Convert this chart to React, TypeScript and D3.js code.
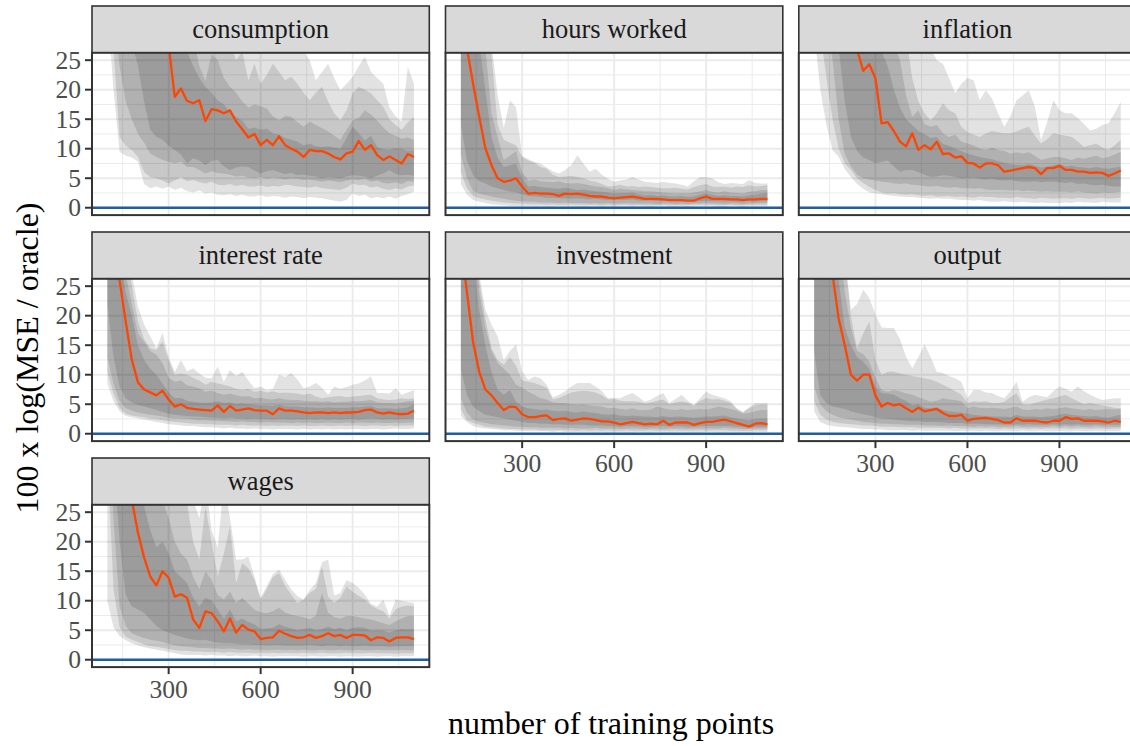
import React from 'react';
import * as d3 from 'd3';

// ---------- categories / ticks ----------
const facetNames = ['consumption', 'hours worked', 'inflation', 'interest rate', 'investment', 'output', 'wages'];
const trainingPoints = [100, 120, 140, 160, 180, 200, 220, 240, 260, 280, 300,
  320, 340, 360, 380, 400, 420, 440, 460, 480, 500,
  520, 540, 560, 580, 600, 620, 640, 660, 680, 700,
  720, 740, 760, 780, 800, 820, 840, 860, 880, 900,
  920, 940, 960, 980, 1000, 1020, 1040, 1060, 1080, 1100];
const xMajorTicks = [300, 600, 900];
const xMinorTicks = [150, 450, 750, 1050];
const yMajorTicks = [0, 5, 10, 15, 20, 25];
const yMinorTicks = [2.5, 7.5, 12.5, 17.5, 22.5];

// ---------- consumption ----------
const consumptionMed = [75, 62, 52, 46, 42, 38, 35, 32, 30, 29, 27.5,
  18.8, 20.2, 18.1, 17.7, 18.2, 14.7, 16.7, 16.5, 16.0, 16.5,
  14.6, 13.3, 11.9, 12.5, 10.6, 11.5, 10.6, 12.1, 10.6, 10.0,
  9.5, 8.6, 9.8, 9.6, 9.6, 9.2, 8.6, 8.2, 9.2, 9.5,
  11.3, 9.8, 10.6, 8.9, 8.1, 8.7, 8.1, 7.5, 9.1, 8.6];
const consumptionLo1 = [34, 20, 9.5, 8.8, 8.5, 7.8, 4.0, 3.3, 3.6, 3.2, 3.6,
  3.0, 3.4, 2.8, 2.6, 2.9, 2.4, 2.6, 2.2, 2.1, 2.3,
  2.0, 2.2, 1.9, 1.9, 2.1, 1.8, 2.0, 1.9, 1.7, 1.9,
  1.8, 1.6, 1.8, 1.7, 1.6, 1.4, 1.2, 1.0, 1.3, 2.4,
  2.0, 2.2, 1.6, 1.8, 1.6, 1.9, 1.5, 2.0, 2.3, 2.7];
const consumptionLo2 = [45, 27, 12, 10.5, 9.8, 8.6, 6.0, 5.2, 5.0, 4.6, 4.1,
  4.6, 5.2, 4.5, 4.7, 4.3, 4.1, 4.4, 3.9, 3.8, 4.0,
  3.7, 3.9, 3.6, 3.6, 3.8, 3.5, 3.7, 3.6, 3.9, 3.8,
  3.6, 3.5, 3.4, 3.6, 3.3, 3.2, 3.1, 3.0, 3.4, 4.1,
  3.8, 3.9, 3.4, 3.6, 3.2, 3.0, 3.3, 3.1, 3.6, 3.8];
const consumptionLo3 = [55, 34, 24, 18, 15, 12.5, 11, 9.2, 8.6, 8.1, 7.8,
  7.5, 7.8, 6.9, 6.9, 6.4, 5.8, 6.2, 5.9, 5.8, 5.6,
  5.3, 5.4, 5.1, 5.0, 5.2, 4.9, 5.1, 5.0, 4.8, 5.0,
  4.9, 4.7, 4.8, 4.6, 4.4, 4.6, 4.5, 4.3, 4.6, 4.8,
  4.7, 4.9, 4.4, 4.6, 4.2, 4.1, 4.3, 4.0, 4.5, 4.4];
const consumptionLo4 = [65, 52, 42, 34, 28, 24, 18, 13.2, 12.0, 11.5, 10.5,
  9.8, 9.0, 7.5, 8.4, 8.0, 7.2, 7.9, 8.1, 7.0, 6.4,
  6.8, 7.0, 6.9, 6.3, 5.8, 6.2, 6.4, 6.0, 5.7, 5.9,
  5.5, 5.6, 5.4, 5.3, 5.0, 5.2, 5.1, 5.0, 5.3, 5.5,
  5.4, 5.3, 5.0, 5.4, 5.8, 6.4, 5.7, 5.5, 5.6, 5.4];
const consumptionHi4 = [150, 130, 110, 95, 85, 75, 65, 55, 48, 42, 36,
  30, 28, 26.5, 24, 22, 20.5, 19.5, 18.2, 17.5, 16.2,
  15.4, 14.8, 13.4, 13.6, 13.2, 13.4, 12.6, 12.4, 11.8, 11.5,
  11.2, 10.6, 10.9, 10.4, 10.3, 10.4, 10.2, 10.0, 11.8, 13.7,
  12.6, 11.4, 12.2, 10.3, 9.9, 9.8, 10.1, 10.0, 9.6, 9.8];
const consumptionHi3 = [200, 170, 150, 130, 110, 95, 80, 70, 60, 52, 45,
  40, 36, 32, 29, 24, 21.5, 26, 25, 22, 20.5,
  19.5, 18, 17, 17.5, 17.2, 16.8, 15.5, 14.8, 15.6, 15.4,
  14.5, 13.7, 14.6, 14.0, 13.5, 12.9, 12.2, 11.5, 13.2, 14.8,
  15.2, 16.5, 15.8, 14.8, 13.6, 12.6, 12.2, 11.7, 11.9, 11.5];
const consumptionHi2 = [250, 220, 190, 160, 140, 120, 100, 85, 72, 62, 54,
  48, 42, 38, 34, 30, 28, 31, 29, 27, 28,
  25, 26.5, 21.6, 24.4, 21, 22.5, 24.4, 23, 21.6, 22.2,
  21, 19.5, 18.2, 19.5, 20.5, 18, 16, 14.8, 16.5, 19.4,
  20.5, 20, 19.4, 18.2, 17.1, 15.0, 14.0, 13.2, 14.5, 15.4];
const consumptionHi1 = [300, 260, 230, 200, 180, 160, 140, 120, 105, 95, 85,
  75, 68, 60, 54, 50, 45, 42, 40, 37, 35,
  33, 32, 31, 30, 29, 28, 29, 28, 27, 27.5,
  27, 26.5, 25, 21.6, 23, 24.4, 22, 19.9, 21, 22.2,
  24, 25.6, 23, 22, 21, 17, 15.5, 14.6, 23.9, 21];

// ---------- hours worked ----------
const hoursMed = [34, 27, 21, 15.4, 10.1, 7.2, 5.0, 4.4, 4.6, 5.0, 3.6,
  2.4, 2.5, 2.4, 2.4, 2.3, 2.0, 2.4, 2.3, 2.4, 2.2,
  2.0, 1.9, 1.9, 1.7, 1.6, 1.7, 1.8, 1.9, 1.7, 1.5,
  1.5, 1.5, 1.4, 1.3, 1.3, 1.3, 1.2, 1.2, 1.6, 1.9,
  1.5, 1.5, 1.5, 1.4, 1.4, 1.3, 1.4, 1.4, 1.5, 1.5];
const hoursLo1 = [4, 2.2, 1.3, 1.0, 0.8, 0.6, 0.5, 0.4, 0.3, 0.3, 0.3,
  0.3, 0.2, 0.3, 0.2, 0.2, 0.3, 0.2, 0.2, 0.2, 0.1,
  0.2, 0.2, 0.1, 0.2, 0.1, 0.2, 0.2, 0.1, 0.2, 0.1,
  0.1, 0.2, 0.2, 0.1, 0.1, 0.2, 0.1, 0.2, 0.2, 0.2,
  0.2, 0.1, 0.1, 0.2, 0.2, 0.1, 0.2, 0.2, 0.2, 0.2];
const hoursLo2 = [6, 3.3, 2.0, 1.6, 1.4, 1.2, 1.0, 0.9, 0.8, 0.7, 0.7,
  0.6, 0.6, 0.6, 0.5, 0.6, 0.5, 0.5, 0.6, 0.5, 0.5,
  0.5, 0.5, 0.4, 0.5, 0.4, 0.5, 0.5, 0.4, 0.5, 0.4,
  0.4, 0.4, 0.5, 0.4, 0.4, 0.4, 0.4, 0.5, 0.5, 0.5,
  0.5, 0.4, 0.4, 0.5, 0.4, 0.4, 0.5, 0.5, 0.5, 0.5];
const hoursLo3 = [9, 5, 2.8, 2.4, 2.1, 1.9, 1.7, 1.5, 1.3, 1.2, 1.1,
  1.0, 1.0, 0.9, 0.9, 0.9, 0.8, 0.9, 0.8, 0.8, 0.8,
  0.7, 0.8, 0.7, 0.8, 0.7, 0.7, 0.8, 0.7, 0.7, 0.7,
  0.7, 0.6, 0.7, 0.7, 0.6, 0.7, 0.6, 0.7, 0.7, 0.8,
  0.7, 0.7, 0.6, 0.7, 0.7, 0.6, 0.7, 0.7, 0.8, 0.8];
const hoursLo4 = [14, 8, 5.5, 4.5, 4.1, 3.6, 3.3, 3.0, 2.7, 2.6, 2.3,
  2.0, 1.9, 1.8, 1.7, 1.7, 1.6, 1.6, 1.5, 1.6, 1.5,
  1.4, 1.5, 1.4, 1.3, 1.4, 1.3, 1.3, 1.4, 1.2, 1.2,
  1.2, 1.1, 1.2, 1.1, 1.1, 1.0, 1.1, 1.0, 1.1, 1.2,
  1.1, 1.1, 1.0, 1.1, 1.0, 1.0, 1.1, 1.0, 1.1, 1.1];
const hoursHi4 = [70, 50, 38, 28, 20, 12, 8.5, 6.9, 7.2, 7.5, 5.0,
  3.6, 3.7, 3.5, 3.4, 3.3, 3.2, 3.4, 3.2, 3.0, 3.1,
  2.9, 2.8, 2.7, 2.6, 2.4, 2.5, 2.5, 2.6, 2.3, 2.1,
  2.2, 2.0, 2.1, 1.9, 1.9, 2.0, 1.8, 1.9, 2.2, 2.4,
  2.2, 2.0, 2.1, 2.0, 2.0, 1.9, 2.1, 2.2, 2.4, 2.5];
const hoursHi3 = [90, 65, 48, 36, 27, 16, 12, 8.1, 8.8, 9.6, 6.0,
  4.6, 4.8, 4.5, 4.4, 4.3, 4.5, 4.2, 4.1, 4.2, 4.0,
  3.8, 3.6, 3.5, 3.3, 3.0, 3.2, 3.1, 3.0, 2.9, 2.8,
  2.8, 2.7, 2.6, 2.5, 2.4, 2.5, 2.4, 2.6, 2.8, 3.0,
  2.7, 2.6, 2.8, 2.6, 2.5, 2.4, 2.7, 2.8, 3.0, 3.0];
const hoursHi2 = [110, 80, 60, 45, 34, 26, 14, 11.5, 11.0, 10.6, 8.6,
  8.0, 7.6, 6.9, 6.6, 5.6, 5.2, 5.3, 5.4, 5.2, 5.0,
  4.6, 4.4, 4.0, 3.6, 3.7, 3.9, 3.6, 3.7, 3.5, 3.6,
  3.5, 3.4, 3.3, 3.3, 3.4, 3.2, 3.1, 3.5, 3.8, 4.0,
  3.6, 3.5, 3.6, 3.4, 3.6, 3.5, 3.8, 3.6, 3.7, 3.8];
const hoursHi1 = [140, 100, 75, 55, 42, 28, 19, 13.5, 18.2, 17.0, 8.8,
  8.2, 7.8, 7.5, 6.8, 6.2, 5.8, 6.4, 7.2, 8.9, 7.5,
  6.1, 6.6, 5.6, 4.9, 4.4, 4.6, 4.8, 5.2, 4.8, 4.4,
  4.3, 4.2, 4.4, 4.2, 4.1, 3.9, 3.6, 4.5, 5.2, 5.2,
  5.0, 4.3, 4.0, 4.2, 4.1, 4.0, 4.7, 4.2, 4.1, 4.1];

// ---------- inflation ----------
const inflationMed = [70, 58, 48, 42, 37, 33, 30, 26.8, 23.2, 24.3, 21.9,
  14.3, 14.5, 13.0, 11.2, 10.4, 12.6, 9.8, 10.6, 9.9, 11.2,
  9.1, 9.2, 8.5, 8.7, 7.6, 7.5, 6.8, 7.5, 7.5, 7.2,
  6.1, 6.3, 6.5, 6.7, 6.9, 6.7, 5.7, 6.7, 6.7, 7.1,
  6.4, 6.4, 6.1, 6.1, 5.9, 6.0, 5.9, 5.4, 5.8, 6.3];
const inflationLo1 = [30, 20, 14, 9.8, 8.6, 6.5, 5.2, 4.0, 3.2, 2.6, 2.4,
  2.3, 2.1, 2.0, 1.9, 1.8, 1.8, 1.7, 1.6, 1.5, 1.6,
  1.5, 1.5, 1.4, 1.3, 1.3, 1.2, 1.3, 1.1, 1.0, 1.0,
  1.1, 1.0, 0.9, 1.0, 0.9, 0.8, 0.9, 0.8, 0.8, 0.8,
  0.9, 0.8, 1.0, 0.9, 0.9, 0.8, 1.0, 0.9, 0.9, 0.9];
const inflationLo2 = [40, 30, 22, 15, 10, 7.5, 6.4, 5.0, 4.2, 3.5, 3.0,
  2.6, 2.4, 2.5, 2.3, 2.2, 2.3, 2.1, 2.0, 2.1, 1.9,
  1.9, 2.0, 1.8, 1.9, 1.8, 1.7, 1.9, 1.8, 1.8, 1.7,
  1.7, 1.6, 1.8, 1.7, 1.6, 1.5, 1.7, 1.6, 1.5, 1.6,
  1.6, 1.5, 1.7, 1.6, 1.5, 1.6, 1.7, 1.5, 1.6, 1.7];
const inflationLo3 = [50, 40, 32, 25, 15, 9, 7.0, 5.6, 5.0, 4.8, 4.6,
  4.4, 4.3, 4.1, 4.0, 4.1, 3.9, 3.8, 3.7, 3.6, 3.7,
  3.5, 3.4, 3.5, 3.3, 3.3, 3.2, 3.3, 3.1, 3.0, 3.0,
  3.0, 2.9, 3.0, 2.8, 2.9, 2.8, 2.7, 2.8, 2.7, 2.7,
  2.7, 2.6, 2.8, 2.6, 2.5, 2.4, 2.6, 2.5, 2.6, 2.7];
const inflationLo4 = [60, 48, 40, 33, 27, 18, 12, 9.6, 8.5, 8.1, 7.5,
  7.8, 8.0, 7.0, 6.1, 6.4, 6.4, 6.0, 5.6, 5.2, 5.3,
  5.5, 5.4, 5.2, 5.0, 5.0, 5.1, 4.9, 4.8, 4.9, 4.7,
  4.6, 4.7, 4.5, 4.4, 4.4, 4.5, 4.3, 4.4, 4.4, 4.3,
  4.2, 4.3, 4.0, 4.1, 3.9, 3.8, 3.9, 3.7, 3.6, 3.6];
const inflationHi4 = [200, 160, 120, 90, 70, 55, 45, 38, 33, 30, 28,
  26.5, 24, 20, 17, 15, 14, 13, 12.5, 11.8, 12.0,
  10.8, 10.5, 10.0, 9.6, 9.2, 8.9, 8.6, 8.4, 8.2, 7.9,
  7.6, 7.4, 7.3, 7.2, 7.4, 7.1, 6.8, 7.0, 7.2, 7.4,
  7.0, 7.1, 6.9, 6.8, 6.7, 6.9, 6.7, 6.6, 6.8, 7.0];
const inflationHi3 = [300, 250, 200, 160, 130, 100, 80, 65, 52, 45, 38,
  34, 30, 28, 25, 19, 15.4, 16.5, 14.2, 13.7, 14.0,
  12.6, 12.0, 12.4, 11.2, 10.9, 10.6, 10.0, 9.8, 10.2, 9.8,
  9.6, 9.2, 9.4, 9.2, 9.4, 8.8, 8.1, 8.4, 8.6, 8.6,
  8.4, 8.1, 8.5, 8.3, 8.6, 8.8, 8.4, 8.6, 9.0, 9.5];
const inflationHi2 = [400, 330, 270, 220, 180, 150, 120, 100, 85, 72, 62,
  52, 44, 38, 33, 29, 22, 18, 16, 14.8, 16.0,
  17.7, 16.5, 16.0, 13.7, 12.8, 12.4, 12.0, 12.6, 13.0, 12.8,
  12.6, 12.6, 12.9, 13.4, 13.7, 12.2, 10.9, 11.6, 12.6, 12.4,
  12.2, 12.0, 11.2, 10.3, 10.6, 10.9, 10.2, 9.8, 10.6, 11.5];
const inflationHi1 = [500, 420, 350, 290, 240, 200, 170, 140, 120, 100, 85,
  72, 60, 50, 42, 36, 31, 27.5, 26.5, 27, 25,
  24.4, 22, 19.4, 21, 22, 21.6, 18.2, 19.9, 18.5, 16,
  13.7, 15.5, 18.2, 19, 19.9, 17.1, 11.5, 14.5, 18.2, 16.5,
  16.0, 16.0, 15.2, 14.2, 13.1, 13.4, 14.0, 14.3, 16.0, 17.9];

// ---------- interest rate ----------
const interestMed = [45, 34, 26, 19, 12.5, 8.7, 7.5, 7.0, 6.5, 7.3, 5.8,
  4.6, 5.0, 4.4, 4.2, 4.1, 4.0, 3.9, 4.8, 3.7, 4.7,
  3.9, 4.1, 4.3, 4.0, 3.9, 3.9, 3.3, 4.3, 3.9, 3.9,
  3.8, 3.6, 3.5, 3.6, 3.6, 3.5, 3.6, 3.5, 3.6, 3.6,
  3.7, 4.0, 4.1, 3.6, 3.4, 3.6, 3.4, 3.3, 3.4, 3.9];
const interestLo1 = [8.5, 5.5, 3.8, 3.0, 2.8, 2.6, 2.4, 2.2, 2.0, 1.8, 1.6,
  1.5, 1.4, 1.3, 1.3, 1.2, 1.1, 1.1, 1.0, 0.9, 1.0,
  0.9, 0.9, 0.8, 0.9, 0.8, 0.8, 0.7, 0.8, 0.8, 0.8,
  0.7, 0.8, 0.7, 0.8, 0.7, 0.8, 0.7, 0.8, 0.7, 0.8,
  0.8, 0.7, 0.8, 0.8, 0.7, 0.8, 0.9, 0.8, 0.8, 0.9];
const interestLo2 = [10.5, 6.8, 4.4, 3.4, 3.1, 2.9, 2.8, 2.6, 2.5, 2.3, 2.1,
  2.0, 1.9, 1.8, 1.7, 1.7, 1.6, 1.6, 1.5, 1.5, 1.5,
  1.4, 1.5, 1.4, 1.4, 1.4, 1.3, 1.4, 1.3, 1.4, 1.4,
  1.3, 1.4, 1.3, 1.3, 1.4, 1.3, 1.3, 1.4, 1.3, 1.4,
  1.4, 1.3, 1.4, 1.4, 1.3, 1.4, 1.3, 1.4, 1.4, 1.4];
const interestLo3 = [13, 8.5, 5.6, 4.3, 3.9, 3.6, 3.4, 3.2, 3.1, 2.9, 2.7,
  2.6, 2.6, 2.5, 2.4, 2.3, 2.3, 2.2, 2.2, 2.1, 2.1,
  2.0, 2.1, 2.0, 2.0, 1.9, 2.0, 1.9, 1.9, 1.9, 1.8,
  1.9, 1.8, 1.9, 1.8, 1.8, 1.9, 1.8, 1.8, 1.9, 1.8,
  1.9, 1.9, 1.8, 1.9, 1.8, 1.8, 1.9, 1.8, 1.9, 1.9];
const interestLo4 = [22, 13, 8.0, 6.0, 5.3, 4.9, 4.6, 4.3, 4.0, 3.7, 3.4,
  3.2, 3.1, 3.0, 2.9, 2.9, 2.8, 2.7, 2.7, 2.6, 2.7,
  2.6, 2.6, 2.5, 2.6, 2.5, 2.5, 2.4, 2.5, 2.5, 2.4,
  2.5, 2.4, 2.5, 2.4, 2.5, 2.4, 2.5, 2.4, 2.5, 2.5,
  2.4, 2.5, 2.6, 2.5, 2.4, 2.5, 2.4, 2.5, 2.5, 2.6];
const interestHi4 = [70, 45, 30, 24, 20, 15, 12.5, 11, 10, 8.5, 7.0,
  6.0, 6.1, 5.6, 5.4, 5.3, 5.2, 5.3, 5.5, 5.2, 5.3,
  5.0, 5.1, 5.0, 4.9, 4.8, 4.8, 4.7, 4.9, 4.7, 4.6,
  4.6, 4.5, 4.5, 4.4, 4.4, 4.5, 4.4, 4.4, 4.4, 4.5,
  4.5, 4.6, 4.7, 4.3, 4.3, 4.3, 4.2, 4.3, 4.5, 5.0];
const interestHi3 = [85, 55, 36, 27, 22, 17, 15.6, 14.0, 13.4, 12, 9.5,
  8.8, 9.0, 8.2, 8.0, 7.7, 7.1, 7.3, 6.9, 6.6, 6.8,
  6.5, 6.3, 6.4, 6.0, 6.1, 5.9, 5.8, 6.0, 5.8, 5.7,
  5.7, 5.6, 5.5, 5.5, 5.4, 5.5, 5.3, 5.4, 5.4, 5.5,
  5.5, 5.6, 5.7, 5.3, 5.2, 5.2, 5.1, 5.3, 5.5, 5.6];
const interestHi2 = [100, 65, 42, 31, 25, 19, 16, 14.5, 14.2, 15.6, 12.5,
  10.0, 10.2, 10.0, 9.5, 9.0, 8.3, 8.8, 8.5, 8.3, 8.0,
  7.6, 7.4, 7.6, 7.1, 7.3, 7.0, 7.2, 6.9, 7.0, 6.9,
  6.8, 6.6, 6.8, 6.3, 6.0, 6.2, 6.3, 6.4, 6.2, 6.3,
  6.4, 6.5, 6.6, 6.0, 5.8, 5.7, 5.8, 6.0, 5.9, 6.0];
const interestHi1 = [120, 80, 52, 36, 27, 21.5, 18.5, 16.5, 14.5, 17.1, 13,
  10.5, 12.5, 10.6, 11.1, 10.2, 9.5, 9.4, 11.4, 8.8, 10.8,
  9.8, 10.5, 9.0, 7.7, 8.0, 7.4, 7.6, 10.0, 9.6, 10.3,
  9.2, 7.7, 8.0, 8.6, 7.8, 6.6, 8.0, 7.6, 7.9, 8.3,
  8.5, 9.0, 9.7, 6.9, 6.9, 6.8, 7.7, 6.6, 7.0, 7.4];

// ---------- investment ----------
const investmentMed = [32, 24, 15.5, 10.5, 7.5, 6.5, 5.2, 4.0, 4.6, 4.5, 3.3,
  2.8, 2.8, 3.0, 3.1, 2.3, 2.5, 2.6, 2.2, 2.4, 2.6,
  2.5, 2.3, 2.1, 2.1, 1.9, 1.6, 1.8, 2.0, 1.8, 1.6,
  1.7, 1.6, 2.2, 1.5, 1.9, 1.9, 1.9, 1.5, 1.8, 2.0,
  2.0, 2.2, 2.4, 2.1, 1.8, 1.5, 1.2, 1.7, 1.8, 1.6];
const investmentLo1 = [3.0, 2.0, 1.3, 1.0, 0.9, 0.8, 0.7, 0.6, 0.6, 0.5, 0.5,
  0.4, 0.4, 0.4, 0.4, 0.3, 0.4, 0.3, 0.3, 0.3, 0.3,
  0.3, 0.2, 0.3, 0.2, 0.2, 0.3, 0.2, 0.2, 0.3, 0.2,
  0.2, 0.3, 0.2, 0.2, 0.2, 0.3, 0.2, 0.2, 0.2, 0.3,
  0.3, 0.2, 0.2, 0.3, 0.2, 0.2, 0.2, 0.3, 0.3, 0.3];
const investmentLo2 = [4.2, 2.3, 1.8, 1.5, 1.2, 1.1, 1.0, 0.9, 0.8, 0.8, 0.7,
  0.7, 0.7, 0.6, 0.6, 0.6, 0.6, 0.6, 0.6, 0.5, 0.6,
  0.5, 0.6, 0.5, 0.6, 0.5, 0.5, 0.6, 0.5, 0.5, 0.5,
  0.6, 0.5, 0.5, 0.5, 0.6, 0.5, 0.5, 0.5, 0.6, 0.5,
  0.6, 0.6, 0.6, 0.5, 0.5, 0.5, 0.5, 0.6, 0.6, 0.6];
const investmentLo3 = [6.0, 3.5, 2.4, 2.0, 1.8, 1.6, 1.5, 1.4, 1.3, 1.2, 1.2,
  1.1, 1.1, 1.0, 1.0, 1.0, 1.0, 0.9, 1.0, 0.9, 0.9,
  0.9, 1.0, 0.9, 0.9, 0.9, 0.8, 0.9, 0.9, 0.9, 0.8,
  0.9, 0.9, 0.8, 0.9, 0.9, 0.9, 0.8, 0.9, 0.9, 0.9,
  0.9, 0.9, 1.0, 0.9, 0.9, 0.8, 0.8, 0.9, 0.9, 0.9];
const investmentLo4 = [11, 6.5, 4.6, 3.8, 3.2, 3.0, 2.8, 2.6, 2.4, 2.2, 2.0,
  1.8, 1.8, 1.7, 1.7, 1.6, 1.6, 1.5, 1.5, 1.5, 1.5,
  1.4, 1.4, 1.4, 1.3, 1.3, 1.2, 1.3, 1.3, 1.3, 1.2,
  1.2, 1.3, 1.3, 1.2, 1.3, 1.3, 1.2, 1.2, 1.3, 1.3,
  1.3, 1.3, 1.3, 1.3, 1.2, 1.2, 1.0, 1.2, 1.2, 1.2];
const investmentHi4 = [60, 45, 30, 21, 15, 10.5, 7.5, 6.6, 7.4, 5.4, 4.6,
  4.3, 4.2, 4.0, 4.1, 3.9, 3.8, 3.9, 3.7, 3.6, 3.8,
  3.6, 3.5, 3.3, 3.2, 3.3, 3.1, 3.0, 3.1, 3.0, 2.9,
  2.9, 2.8, 3.0, 2.8, 2.9, 2.9, 2.8, 2.7, 2.8, 2.9,
  2.9, 3.0, 3.1, 2.8, 2.6, 2.4, 2.3, 2.5, 2.6, 2.6];
const investmentHi3 = [90, 60, 38, 24, 18, 14.0, 12.0, 11.0, 10.0, 8.3, 7.8,
  7.1, 6.6, 6.0, 5.8, 5.3, 5.2, 5.2, 5.0, 4.9, 5.0,
  4.8, 4.7, 4.6, 4.3, 4.4, 4.2, 4.1, 4.3, 4.0, 4.0,
  4.1, 4.6, 4.3, 4.1, 4.0, 4.2, 4.0, 4.1, 4.2, 4.1,
  4.3, 4.6, 4.4, 4.2, 3.9, 3.4, 3.5, 3.8, 4.0, 4.0];
const investmentHi2 = [120, 80, 50, 26, 19.5, 14.5, 12.5, 11.7, 13.0, 11.5, 9.0,
  8.8, 8.6, 8.2, 7.8, 5.8, 6.1, 6.5, 7.0, 7.2, 7.3,
  7.2, 7.0, 6.5, 5.8, 5.9, 5.6, 5.5, 5.5, 5.4, 5.1,
  5.3, 5.6, 5.8, 5.0, 5.3, 5.5, 5.3, 4.7, 5.6, 6.0,
  5.8, 5.9, 5.6, 5.2, 4.2, 3.6, 4.3, 4.8, 4.9, 4.9];
const investmentHi1 = [150, 110, 70, 27, 21, 18.5, 16.5, 12.5, 14, 15.1, 10.5,
  9.1, 9.7, 9.4, 8.3, 6.2, 6.6, 7.2, 8.0, 8.6, 8.6,
  8.6, 8.0, 7.2, 6.0, 6.1, 6.0, 6.5, 6.9, 6.2, 5.4,
  5.8, 6.4, 6.9, 5.2, 5.9, 6.6, 5.6, 4.9, 6.0, 7.1,
  6.6, 6.3, 6.0, 5.5, 4.3, 3.7, 4.5, 5.2, 5.2, 5.2];

// ---------- output ----------
const outputMed = [55, 42, 33, 27, 19.5, 15, 10, 9.0, 10.0, 10.0, 6.5,
  4.6, 5.2, 4.8, 5.0, 4.3, 3.7, 4.4, 3.8, 4.0, 4.2,
  3.5, 3.0, 3.0, 3.2, 2.2, 2.5, 2.6, 2.7, 2.5, 2.3,
  1.9, 1.9, 2.6, 2.2, 2.2, 2.2, 2.0, 1.9, 2.2, 2.2,
  2.8, 2.5, 2.6, 2.2, 2.2, 2.2, 2.1, 1.9, 2.2, 2.0];
const outputLo1 = [3.8, 2.0, 1.5, 1.3, 1.2, 1.1, 1.0, 0.9, 0.8, 0.8, 0.7,
  0.7, 0.6, 0.6, 0.6, 0.6, 0.5, 0.6, 0.5, 0.5, 0.5,
  0.5, 0.5, 0.4, 0.5, 0.4, 0.5, 0.4, 0.5, 0.4, 0.4,
  0.5, 0.4, 0.4, 0.5, 0.4, 0.4, 0.5, 0.4, 0.4, 0.5,
  0.4, 0.4, 0.5, 0.4, 0.4, 0.5, 0.4, 0.4, 0.4, 0.5];
const outputLo2 = [5.5, 3.2, 2.4, 2.0, 1.8, 1.7, 1.6, 1.5, 1.4, 1.4, 1.3,
  1.2, 1.2, 1.2, 1.1, 1.1, 1.1, 1.0, 1.0, 1.0, 1.0,
  1.0, 0.9, 1.0, 0.9, 0.9, 0.9, 0.9, 0.9, 0.9, 0.8,
  0.9, 0.8, 0.9, 0.9, 0.8, 0.9, 0.8, 0.9, 0.9, 0.9,
  0.9, 0.8, 0.9, 0.9, 0.8, 0.9, 0.9, 0.8, 0.9, 0.9];
const outputLo3 = [8, 4.9, 3.8, 3.2, 2.8, 2.6, 2.4, 2.2, 2.0, 1.9, 1.8,
  1.7, 1.7, 1.6, 1.6, 1.5, 1.5, 1.5, 1.4, 1.4, 1.4,
  1.3, 1.4, 1.3, 1.3, 1.3, 1.2, 1.3, 1.2, 1.3, 1.2,
  1.2, 1.2, 1.3, 1.2, 1.2, 1.2, 1.2, 1.2, 1.3, 1.2,
  1.3, 1.2, 1.3, 1.2, 1.2, 1.3, 1.2, 1.2, 1.2, 1.2];
const outputLo4 = [14, 6.5, 5.2, 4.6, 4.4, 4.2, 3.8, 3.5, 3.3, 3.1, 2.8,
  2.6, 2.5, 2.4, 2.3, 2.2, 2.1, 2.1, 2.0, 2.0, 2.0,
  1.9, 1.8, 1.8, 1.8, 1.7, 1.7, 1.7, 1.6, 1.6, 1.6,
  1.5, 1.5, 1.6, 1.5, 1.6, 1.5, 1.5, 1.5, 1.6, 1.5,
  1.6, 1.5, 1.6, 1.5, 1.5, 1.6, 1.5, 1.5, 1.5, 1.5];
const outputHi4 = [80, 60, 45, 35, 26, 18, 15, 13.0, 12.2, 11.0, 8.0,
  6.9, 6.8, 6.6, 6.0, 5.6, 4.8, 5.0, 4.4, 4.3, 4.5,
  4.0, 3.8, 3.7, 3.6, 3.4, 3.2, 3.1, 3.0, 2.9, 2.9,
  2.9, 2.8, 3.2, 2.9, 2.9, 2.9, 2.8, 2.9, 3.0, 3.2,
  3.4, 3.2, 3.1, 3.0, 2.9, 3.0, 2.8, 2.7, 3.0, 3.2];
const outputHi3 = [120, 90, 65, 48, 34, 24, 18, 14.0, 13.5, 12.2, 9.5,
  7.4, 7.1, 7.4, 7.2, 6.8, 6.6, 6.2, 5.8, 5.4, 5.6,
  6.0, 5.8, 5.7, 5.5, 4.3, 4.6, 4.4, 4.3, 4.4, 4.3,
  4.2, 4.4, 4.6, 4.1, 4.0, 4.2, 4.1, 4.3, 4.2, 4.3,
  4.5, 4.3, 4.2, 4.0, 4.2, 4.0, 4.1, 4.2, 4.1, 4.2];
const outputHi2 = [160, 120, 90, 65, 45, 30, 20, 14.5, 17, 19, 12.5,
  10.0, 10.5, 10.5, 10.2, 10.0, 9.8, 9.6, 9.4, 9.2, 8.8,
  8.3, 7.8, 7.2, 6.6, 5.2, 5.5, 5.4, 5.5, 5.2, 5.2,
  5.4, 6.2, 6.9, 5.0, 4.9, 5.2, 5.5, 5.8, 6.0, 6.3,
  6.6, 6.0, 5.5, 5.0, 5.2, 5.0, 4.8, 4.6, 4.4, 4.3];
const outputHi1 = [200, 150, 110, 80, 55, 30, 21, 22, 24.4, 23, 20.2,
  18.0, 17.9, 17.9, 16.0, 13.0, 11.1, 13.0, 15.1, 13.0, 10.5,
  10.3, 9.8, 9.4, 8.8, 6.0, 7.4, 7.4, 7.0, 6.9, 6.4,
  6.0, 7.2, 8.8, 5.4, 6.2, 6.6, 6.4, 6.2, 7.2, 8.0,
  7.6, 7.1, 8.0, 7.2, 6.6, 6.1, 5.7, 5.9, 6.0, 6.0];

// ---------- wages ----------
const wagesMed = [70, 52, 40, 32, 27, 21.5, 17.3, 14.1, 12.6, 15.0, 13.9,
  10.7, 11.1, 10.5, 6.8, 5.4, 8.2, 7.9, 6.5, 4.8, 7.0,
  4.6, 5.9, 5.1, 4.8, 3.5, 3.7, 3.8, 4.9, 4.4, 4.0,
  3.7, 3.8, 4.2, 3.7, 4.0, 4.5, 4.0, 4.2, 3.7, 4.2,
  4.2, 4.1, 3.3, 3.8, 3.7, 3.1, 3.7, 3.8, 3.8, 3.5];
const wagesLo1 = [10, 5.5, 4.0, 3.3, 2.8, 2.4, 2.1, 1.9, 1.7, 1.5, 1.3,
  1.1, 0.9, 0.8, 0.8, 0.8, 0.7, 0.8, 0.7, 0.7, 0.6,
  0.7, 0.6, 0.6, 0.7, 0.6, 0.6, 0.5, 0.6, 0.6, 0.6,
  0.6, 0.5, 0.6, 0.6, 0.5, 0.6, 0.6, 0.5, 0.6, 0.6,
  0.5, 0.6, 0.6, 0.5, 0.6, 0.6, 0.5, 0.6, 0.6, 0.6];
const wagesLo2 = [35, 12, 5.5, 3.9, 3.4, 3.0, 2.6, 2.3, 2.2, 2.0, 1.8,
  1.6, 1.5, 1.5, 1.4, 1.4, 1.3, 1.3, 1.3, 1.2, 1.3,
  1.2, 1.2, 1.2, 1.1, 1.2, 1.1, 1.2, 1.1, 1.2, 1.1,
  1.1, 1.2, 1.1, 1.1, 1.2, 1.1, 1.1, 1.1, 1.2, 1.1,
  1.1, 1.1, 1.2, 1.1, 1.1, 1.1, 1.0, 1.1, 1.1, 1.1];
const wagesLo3 = [45, 24, 9, 5.7, 4.5, 4.0, 3.7, 3.4, 3.2, 3.0, 2.7,
  2.4, 2.3, 2.2, 2.1, 2.0, 2.0, 1.9, 1.9, 1.8, 1.9,
  1.8, 1.7, 1.8, 1.7, 1.7, 1.6, 1.7, 1.7, 1.6, 1.7,
  1.6, 1.7, 1.6, 1.6, 1.7, 1.6, 1.6, 1.7, 1.6, 1.6,
  1.7, 1.6, 1.6, 1.7, 1.6, 1.6, 1.6, 1.7, 1.6, 1.6];
const wagesLo4 = [60, 35, 20, 11, 9.0, 8.5, 7.9, 6.8, 5.7, 5.0, 4.6,
  4.2, 3.9, 3.6, 3.4, 3.3, 3.4, 3.1, 2.9, 2.8, 2.8,
  2.7, 2.6, 2.6, 2.5, 2.5, 2.4, 2.5, 2.5, 2.4, 2.4,
  2.4, 2.4, 2.5, 2.4, 2.3, 2.4, 2.4, 2.3, 2.4, 2.3,
  2.3, 2.4, 2.3, 2.3, 2.3, 2.2, 2.3, 2.3, 2.3, 2.3];
const wagesHi4 = [150, 110, 80, 60, 45, 30, 26, 22, 19, 20, 18,
  15, 14, 13, 10.5, 9.0, 10.5, 10.0, 8.5, 7.0, 8.5,
  6.5, 7.0, 6.4, 6.0, 5.2, 5.3, 5.4, 6.0, 5.6, 5.3,
  5.0, 5.2, 5.4, 5.0, 5.2, 5.6, 5.2, 5.4, 5.0, 5.4,
  5.5, 5.4, 4.9, 5.0, 4.9, 4.6, 5.0, 5.2, 5.1, 5.1];
const wagesHi3 = [200, 150, 110, 80, 60, 45, 36, 30, 26, 27, 24,
  20, 18, 17, 14, 12, 15, 13.5, 11, 10.2, 11.5,
  9.6, 10.5, 9.5, 8.5, 8.0, 7.9, 8.2, 8.8, 8.0, 7.6,
  7.4, 7.2, 6.8, 7.5, 11.3, 8.0, 7.2, 7.0, 7.4, 7.4,
  7.2, 7.0, 6.8, 6.5, 6.2, 5.9, 6.5, 7.0, 7.4, 7.4];
const wagesHi2 = [260, 200, 150, 110, 85, 65, 50, 40, 34, 33, 30,
  28, 27, 26.5, 20, 17, 26, 20, 14.1, 18, 22.6,
  13.0, 16.4, 15.5, 13.6, 10.2, 12.0, 14.0, 14.7, 12.5, 11.0,
  9.6, 10.2, 11.3, 12.0, 15.8, 10.7, 9.6, 10.5, 12.4, 11.5,
  10.8, 10.2, 9.2, 8.6, 8.2, 7.0, 8.5, 9.0, 9.2, 9.0];
const wagesHi1 = [350, 280, 220, 170, 130, 100, 80, 65, 55, 48, 42,
  38, 35, 32, 27, 24, 30, 22, 19, 30, 24,
  17, 17, 17.5, 14, 10.5, 12.5, 14.5, 15.3, 13.5, 11.9,
  10.8, 10.2, 11.8, 13.0, 16.5, 17.0, 10.9, 11.3, 13.5, 13.0,
  12.2, 11.0, 9.5, 9.0, 10.2, 7.4, 10.2, 10.0, 9.8, 9.6];

// ---------- assembled per facet (outer band first) ----------
const facetData = [
  { med: consumptionMed, bands: [[consumptionLo1, consumptionHi1], [consumptionLo2, consumptionHi2], [consumptionLo3, consumptionHi3], [consumptionLo4, consumptionHi4]] },
  { med: hoursMed, bands: [[hoursLo1, hoursHi1], [hoursLo2, hoursHi2], [hoursLo3, hoursHi3], [hoursLo4, hoursHi4]] },
  { med: inflationMed, bands: [[inflationLo1, inflationHi1], [inflationLo2, inflationHi2], [inflationLo3, inflationHi3], [inflationLo4, inflationHi4]] },
  { med: interestMed, bands: [[interestLo1, interestHi1], [interestLo2, interestHi2], [interestLo3, interestHi3], [interestLo4, interestHi4]] },
  { med: investmentMed, bands: [[investmentLo1, investmentHi1], [investmentLo2, investmentHi2], [investmentLo3, investmentHi3], [investmentLo4, investmentHi4]] },
  { med: outputMed, bands: [[outputLo1, outputHi1], [outputLo2, outputHi2], [outputLo3, outputHi3], [outputLo4, outputHi4]] },
  { med: wagesMed, bands: [[wagesLo1, wagesHi1], [wagesLo2, wagesHi2], [wagesLo3, wagesHi3], [wagesLo4, wagesHi4]] },
];

const FONT = '"Liberation Serif", "Times New Roman", Times, serif';

export default function App() {
  const W = 1130, H = 746;
  const panelW = 337.3;
  const panelH = 162.3;
  const stripH = 46.8;
  const colX = [92, 445.5, 798.8];
  const rowTop = [6, 232, 458];
  const nCols = 3;

  const x = d3.scaleLinear().domain([50, 1150]).range([0, panelW]);
  const y = d3.scaleLinear().domain([-1.25, 26.25]).range([panelH, 0]);

  const area = (lo: number[], hi: number[]) =>
    d3.area<number>()
      .x((_, i) => x(trainingPoints[i]))
      .y0((_, i) => y(lo[i]))
      .y1((_, i) => y(hi[i]))(trainingPoints) || '';
  const line = (vals: number[]) =>
    d3.line<number>()
      .x((_, i) => x(trainingPoints[i]))
      .y((_, i) => y(vals[i]))(trainingPoints) || '';

  const panels = facetNames.map((name, k) => {
    const col = k % nCols;
    const row = Math.floor(k / nCols);
    const px = colX[col];
    const stripTop = rowTop[row];
    const py = stripTop + stripH;
    const hasBelow = k + nCols < facetNames.length;
    const showX = !hasBelow;
    const showY = col === 0;
    const d = facetData[k];
    const clipId = `clip-${k}`;
    return (
      <g key={name}>
        {/* strip */}
        <rect x={px} y={stripTop} width={panelW} height={stripH} fill="#d9d9d9" stroke="#333333" strokeWidth={1.6} />
        <text x={px + panelW / 2} y={stripTop + stripH / 2 + 9} textAnchor="middle"
          fontFamily={FONT} fontSize={26.5} fill="#1a1a1a">{name}</text>
        <g transform={`translate(${px},${py})`}>
          <defs>
            <clipPath id={clipId}><rect x={0} y={0} width={panelW} height={panelH} /></clipPath>
          </defs>
          <rect x={0} y={0} width={panelW} height={panelH} fill="#ffffff" />
          {/* grid */}
          {yMinorTicks.map(t => <line key={`ym${t}`} x1={0} x2={panelW} y1={y(t)} y2={y(t)} stroke="#ebebeb" strokeWidth={1} />)}
          {xMinorTicks.map(t => <line key={`xm${t}`} x1={x(t)} x2={x(t)} y1={0} y2={panelH} stroke="#ebebeb" strokeWidth={1} />)}
          {yMajorTicks.map(t => <line key={`yM${t}`} x1={0} x2={panelW} y1={y(t)} y2={y(t)} stroke="#ebebeb" strokeWidth={1.9} />)}
          {xMajorTicks.map(t => <line key={`xM${t}`} x1={x(t)} x2={x(t)} y1={0} y2={panelH} stroke="#ebebeb" strokeWidth={1.9} />)}
          <g clipPath={`url(#${clipId})`}>
            {d.bands.map(([lo, hi], b) => (
              <path key={b} d={area(lo, hi)} fill="#000000" fillOpacity={0.115} stroke="none" />
            ))}
            <line x1={0} x2={panelW} y1={y(0)} y2={y(0)} stroke="#1f5f9f" strokeWidth={2.6} />
            <path d={line(d.med)} fill="none" stroke="#ff4500" strokeWidth={2.3} strokeLinejoin="round" />
          </g>
          <rect x={0} y={0} width={panelW} height={panelH} fill="none" stroke="#333333" strokeWidth={2} />
          {showY && yMajorTicks.map(t => (
            <g key={`yt${t}`}>
              <line x1={-7} x2={0} y1={y(t)} y2={y(t)} stroke="#333333" strokeWidth={2} />
              <text x={-11} y={y(t) + 8.6} textAnchor="end" fontFamily={FONT} fontSize={25.6} fill="#4d4d4d">{t}</text>
            </g>
          ))}
          {showX && xMajorTicks.map(t => (
            <g key={`xt${t}`}>
              <line x1={x(t)} x2={x(t)} y1={panelH} y2={panelH + 7} stroke="#333333" strokeWidth={2} />
              <text x={x(t)} y={panelH + 31} textAnchor="middle" fontFamily={FONT} fontSize={25.6} fill="#4d4d4d">{t}</text>
            </g>
          ))}
        </g>
      </g>
    );
  });

  return (
    <div>
      <style>{'body{margin:0;}'}</style>
      <svg width={W} height={H} viewBox={`0 0 ${W} ${H}`} style={{ display: 'block', background: '#ffffff' }}>
        <rect x={0} y={0} width={W} height={H} fill="#ffffff" />
        {panels}
        <text x={611} y={734} textAnchor="middle" fontFamily={FONT} fontSize={32} fill="#000000">number of training points</text>
        <text transform={`translate(38,358) rotate(-90)`} textAnchor="middle" fontFamily={FONT} fontSize={32} fill="#000000">100 x log(MSE / oracle)</text>
      </svg>
    </div>
  );
}
